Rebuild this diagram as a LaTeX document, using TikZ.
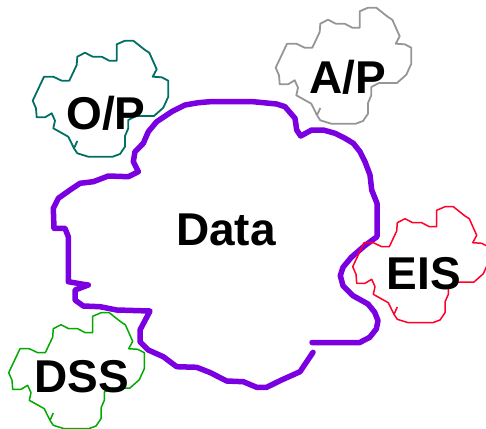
\documentclass[tikz,border=0pt]{standalone}
\usepackage{fontspec}
\setmainfont{Liberation Sans}
\definecolor{datapurple}{RGB}{122,0,226}
\definecolor{opteal}{RGB}{0,112,100}
\definecolor{apgray}{RGB}{150,150,150}
\definecolor{eisred}{RGB}{255,0,40}
\definecolor{dssgreen}{RGB}{0,170,0}
\tikzset{
  blobpic/.pic={
    \draw[pic actions, line join=round]
      (77.3,141) -- (74,148.3) -- (77.3,153.3) -- (88.3,156.7) -- (112.7,156.7)
      -- (120,154) -- (125,146.7) -- (125,136) -- (128.3,128.3) -- (128.3,120)
      -- (136,116) -- (154,116) -- (163.3,107.7) -- (168.3,96.7) -- (168.3,80.7)
      -- (161.7,77.3) -- (152.7,76.7) -- (156.7,69.3) -- (149.3,52.7) -- (145,50)
      -- (133.3,40.7) -- (125,40.7) -- (116.7,44.3) -- (116.7,60.7) -- (109.3,60.7)
      -- (101.7,56.7) -- (92.7,56.7) -- (85,52.7) -- (77.3,56.7) -- (76.7,65)
      -- (69.3,80.7) -- (61.7,80.7) -- (53.3,76.7) -- (44,76.7) -- (32.7,100.7)
      -- (36,108.3) -- (36.7,117.3) -- (45,117.3) -- (51.7,113.3) -- (55,120.7)
      -- (53.3,128.3) -- (68.3,136.7) -- (74,148.3);
  },
  label/.style={font=\fontsize{46}{50}\selectfont\bfseries, anchor=base, inner sep=0pt},
  dataline/.style={datapurple, line width=5.5pt, line join=round, line cap=round}
}
\begin{document}
\begin{tikzpicture}[x=1pt, y=-1pt]
  \useasboundingbox (0,0) rectangle (486,428);

  % the large data region, left open at the bottom right
  \draw[dataline]
    (312,342.5) -- (359.7,342.5) -- (369.7,337.3) -- (376.3,329) -- (378,320.7)
    -- (374.7,312.3) -- (368,304) -- (353,295.7) -- (343,285.7) -- (340.3,275.7)
    -- (343,267.3) -- (351.3,257.3) -- (364.7,245.7) -- (377,236.7) -- (377,203.3)
    -- (371.7,190) -- (370,175) -- (365,161.7) -- (360,151.7) -- (353.3,143.3)
    -- (345,138.3) -- (335,133.3) -- (323.3,130) -- (311.7,130) -- (300.7,136)
    -- (296.7,130) -- (295,118.3) -- (285,106.7) -- (276.7,104) -- (253.3,101.7)
    -- (210,101.7) -- (198.3,102.7) -- (185,105) -- (171.7,111.7) -- (156.7,121.7)
    -- (148.3,131.7) -- (143.3,143.3) -- (135,151.7) -- (133.3,161.7) -- (138.3,171.7)
    -- (128.3,176.7) -- (108.3,176) -- (93.3,181.7) -- (80,183.3) -- (70,190)
    -- (58.3,198.3) -- (53.3,208.3) -- (54,228.3) -- (65,228.3) -- (68.3,236.7)
    -- (68.3,281.7) -- (83.3,284.3) -- (88.3,285) -- (75,290) -- (75,300)
    -- (83.3,306) -- (100,306.7) -- (116.7,310) -- (150,311) -- (140,330)
    -- (140,341.7) -- (148.3,350) -- (163.3,356.7) -- (176.7,366.7) -- (196.7,367.3)
    -- (210,372.5) -- (226.7,381) -- (243.3,381.7) -- (256.7,387.3) -- (266.7,387.3)
    -- (280,380.7) -- (300,371.7) -- (313,352.3);

  % the four satellite regions share one outline
  \pic[opteal, line width=1.8pt] at (0,0) {blobpic};
  \pic[apgray, line width=1.8pt] at (243,-33) {blobpic};
  \pic[eisred, line width=1.5pt] at (320,166) {blobpic};
  \pic[dssgreen, line width=1.5pt] at (-24,272) {blobpic};

  \node[label] (data) at (226,245) {Data};
  \node[label] (op)   at (106,129) {O/P};
  \node[label] (ap)   at (348,93)  {A/P};
  \node[label] (eis)  at (424,289) {EIS};
  \node[label] (dss)  at (82,392)  {DSS};
\end{tikzpicture}
\end{document}
